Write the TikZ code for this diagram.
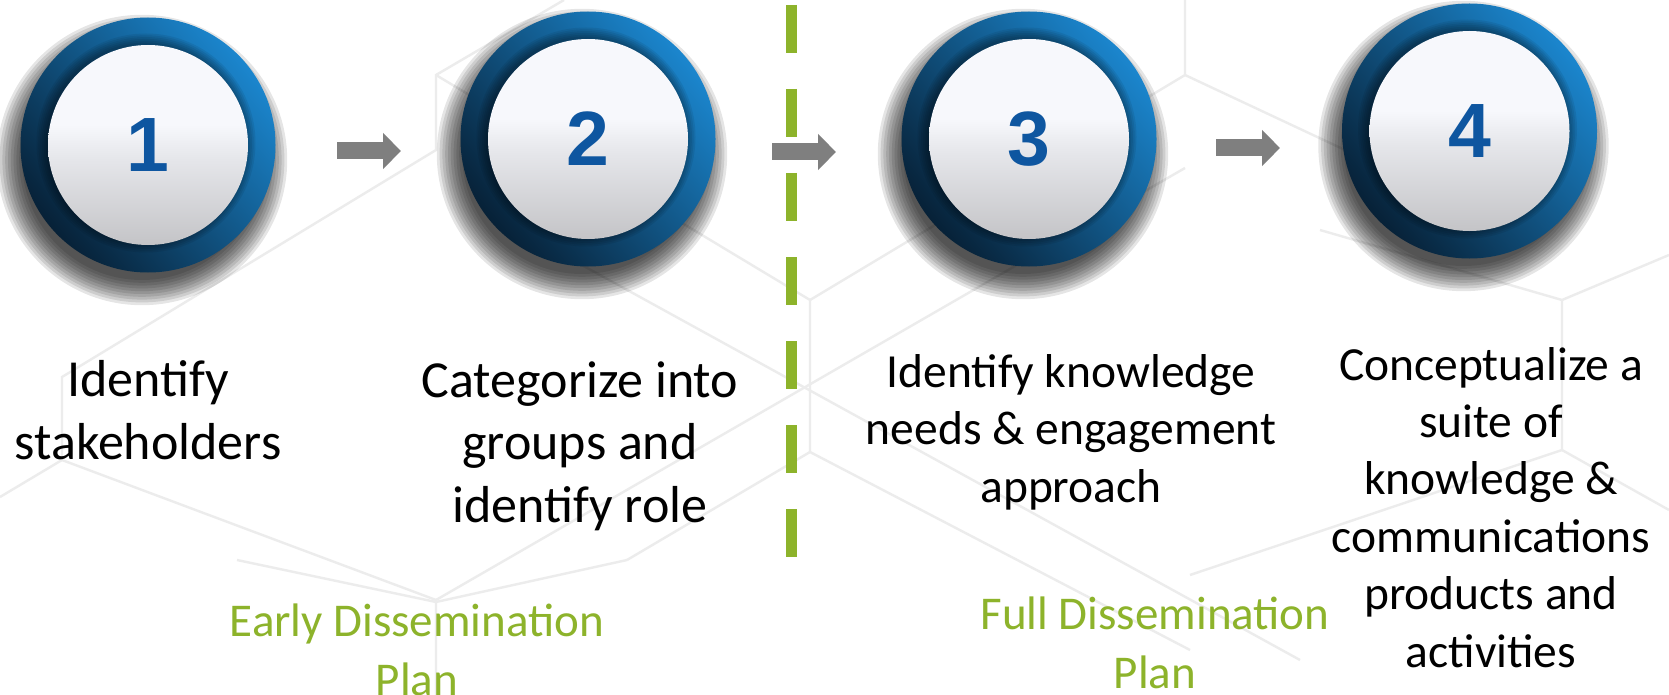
\documentclass[tikz,border=0pt]{standalone}
\usepackage{fontspec}
\setmainfont{Carlito}
\newfontfamily\numfont{Liberation Sans}
\usetikzlibrary{arrows.meta}
\definecolor{ringlight}{RGB}{27,134,206}
\definecolor{ringmid}{RGB}{17,78,122}
\definecolor{ringdark}{RGB}{7,33,55}
\definecolor{disktop}{RGB}{247,248,252}
\definecolor{diskmid}{RGB}{230,231,235}
\definecolor{diskbot}{RGB}{196,196,199}
\definecolor{numblue}{RGB}{14,86,160}
\definecolor{arrowgray}{RGB}{127,127,127}
\definecolor{dashgreen}{RGB}{141,179,43}
\definecolor{hexgray}{RGB}{236,236,236}
\pgfdeclareverticalshading{diskshade}{100bp}{color(0bp)=(diskbot); color(25bp)=(diskbot); color(47bp)=(diskmid); color(55bp)=(disktop); color(75bp)=(disktop); color(100bp)=(disktop)}
\tikzset{
  hexline/.style={draw=hexgray, line width=2.4pt},
  ringshade/.style={circle, inner sep=0, minimum size=255pt, shade, top color=ringlight, middle color=ringmid, bottom color=ringdark, shading angle=-50},
  numstyle/.style={inner sep=0, text=numblue, font=\numfont\bfseries\fontsize{77}{80}\selectfont},
  blockarrow/.style={draw=arrowgray, line width=17pt, -{Triangle[length=18pt,width=35pt]}},
  phaseline/.style={draw=dashgreen, line width=11pt, dash pattern=on 48pt off 36pt},
  bigtext/.style={align=center, inner sep=0, anchor=base, font=\fontsize{52}{62.5}\selectfont},
  midtext/.style={align=center, inner sep=0, anchor=base, font=\fontsize{47.5}{57.4}\selectfont},
  greentext/.style={align=center, inner sep=0, anchor=base, text=dashgreen, font=\fontsize{47}{58.5}\selectfont}
}
\begin{document}
\begin{tikzpicture}[x=1pt,y=-1pt]
\useasboundingbox (0,0) rectangle (1669,695);
\fill[white] (0,0) rectangle (1669,695);
% faint hexagon background
\draw[hexline] (564,0) -- (436,75) -- (436,150) -- (62,377) -- (62,460) -- (0,497);
\draw[hexline] (62,460) -- (436,600) -- (436,695);
\draw[hexline] (436,600) -- (1185,168);
\draw[hexline] (436,75) -- (810,300) -- (810,452);
\draw[hexline] (810,300) -- (1185,75) -- (1185,0);
\draw[hexline] (810,452) -- (627,560);
\draw[hexline] (237,560) -- (436,602) -- (627,560);
\draw[hexline] (810,452) -- (1190,650);
\draw[hexline] (560,253) -- (1300,660);
\draw[hexline] (1320,230) -- (1562,300) -- (1669,255);
\draw[hexline] (1562,300) -- (1562,450) -- (1669,510);
\draw[hexline] (1562,450) -- (1190,575);
\draw[hexline] (1185,75) -- (1345,150);
% circles
\foreach \n/\x/\y in {1/148/145, 2/588/139, 3/1029/139, 4/1469.5/131} {
  \foreach \k in {0,...,9}
    \fill[black, opacity=0.1] (\x-6,\y+15) circle[radius=120+2.8*\k];
  \node[ringshade] (c\n) at (\x,\y) {};
  \foreach \k in {0,...,5}
    \fill[black, opacity=0.07] (\x-2,\y-2) circle[radius=100.5+1.8*\k];
  \shade[shading=diskshade] (\x,\y) circle[radius=100];
  \node[numstyle] (n\n) at (\x,\y) {\n};
}
% phase separator
\coordinate (dtop) at (791,5);
\coordinate (dbot) at (791,557);
\draw[phaseline] (dtop) -- (dbot);
% arrows between steps
\coordinate (a1s) at (337,151); \coordinate (a1e) at (401,151);
\coordinate (a2s) at (772,152); \coordinate (a2e) at (836,152);
\coordinate (a3s) at (1216,148); \coordinate (a3e) at (1280,148);
\draw[blockarrow] (a1s) -- (a1e);
\draw[blockarrow] (a2s) -- (a2e);
\draw[blockarrow] (a3s) -- (a3e);
% texts (anchored at the baseline of the last line)
\node[bigtext] (t1) at (148,459) {Identify\\stakeholders};
\node[bigtext] (t2) at (580,522) {Categorize into\\groups and\\identify role};
\node[midtext] (t3) at (1071,502) {Identify knowledge\\needs \& engagement\\approach};
\node[midtext] (t4) at (1491,667) {Conceptualize a\\suite of\\knowledge \&\\communications\\products and\\activities};
\node[greentext] (g1) at (417,695) {Early Dissemination\\Plan};
\node[greentext] (g2) at (1155,688) {Full Dissemination\\Plan};
\end{tikzpicture}
\end{document}
